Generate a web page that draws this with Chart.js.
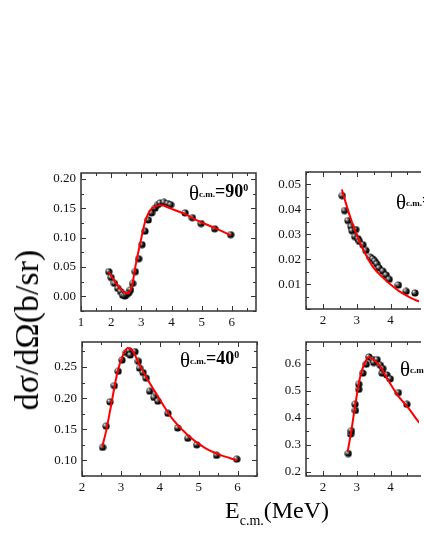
<!DOCTYPE html>
<html>
<head>
<meta charset="utf-8">
<script src="https://cdn.jsdelivr.net/npm/chart.js@4.4.1/dist/chart.umd.min.js"></script>
<style>
  html, body { margin: 0; padding: 0; background: #fff; }
  #page { position: relative; width: 424px; height: 548px; overflow: hidden; }
  #page canvas { position: absolute; }
  .lab { position: absolute; font-family: 'Liberation Serif', 'Times New Roman', serif; font-size: 21px; line-height: 1; white-space: nowrap; color: #000; }
  .th { position: relative; top: 3px; }
  .cm { font-size: 9px; font-weight: bold; }
  .ang { font-size: 18px; font-weight: bold; }
  .deg { font-size: 10px; font-weight: bold; position: relative; top: -6px; }
  #ytitle { position: absolute; left: 27px; top: 330px; transform: translate(-50%, -50%) rotate(-90deg);
    font-family: 'Liberation Serif', 'Times New Roman', serif; font-size: 34px; line-height: 1; white-space: nowrap; }
  #xtitle { position: absolute; left: 225px; top: 498px; font-family: 'Liberation Serif', 'Times New Roman', serif;
    font-size: 24px; line-height: 1; white-space: nowrap; }
  #xtitle .sub { font-size: 14px; position: relative; top: 7px; }
</style>
</head>
<body>
<div id="page">
  <canvas id="c90" width="230" height="174" style="left:31px;top:163px"></canvas>
  <canvas id="cTR" width="162" height="173" style="left:262px;top:162px"></canvas>
  <canvas id="c40" width="230" height="165" style="left:32px;top:337px"></canvas>
  <canvas id="cBR" width="162" height="165" style="left:262px;top:337px"></canvas>

  <div class="lab" style="left:189px;top:180px"><span class="th">θ</span><span class="cm">c.m.</span><span class="ang">=90</span><span class="deg">0</span></div>
  <div class="lab" style="left:396px;top:189px"><span class="th">θ</span><span class="cm">c.m.</span><span class="ang">=</span></div>
  <div class="lab" style="left:180px;top:347px"><span class="th">θ</span><span class="cm">c.m.</span><span class="ang">=40</span><span class="deg">0</span></div>
  <div class="lab" style="left:400px;top:356px"><span class="th">θ</span><span class="cm">c.m.</span><span class="ang">=</span></div>

  <div id="ytitle">dσ/dΩ(b/sr)</div>
  <div id="xtitle">E<span class="sub">c.m.</span>(MeV)</div>
</div>
<script>
// theta = 90 deg (top left)
const energy90 = [1.92, 2.00, 2.11, 2.22, 2.31, 2.38, 2.45, 2.51, 2.58, 2.64, 2.71, 2.80, 2.91, 3.02, 3.12, 3.23, 3.34, 3.45, 3.54, 3.62, 3.75, 3.87, 3.97, 4.45, 4.69, 4.98, 5.43, 5.96];
const sigma90 = [0.042, 0.032, 0.022, 0.0135, 0.008, 0.002, 0.0005, 0.003, 0.006, 0.011, 0.022, 0.042, 0.064, 0.088, 0.111, 0.130, 0.142, 0.150, 0.156, 0.159, 0.160, 0.158, 0.156, 0.142, 0.134, 0.124, 0.115, 0.105];
const fit90E = [1.92, 2.1, 2.3, 2.45, 2.55, 2.63, 2.71, 2.8, 2.91, 3.02, 3.12, 3.23, 3.34, 3.5, 3.65, 4.0, 4.45, 4.9, 5.45, 5.96];
const fit90S = [0.041, 0.027, 0.013, 0.006, 0.005, 0.009, 0.022, 0.05, 0.078, 0.104, 0.126, 0.141, 0.149, 0.154, 0.155, 0.149, 0.140, 0.128, 0.116, 0.104];
const ticks90 = [1, 2, 3, 4, 5, 6];

// top right panel (cut off by the page edge)
const energyTR = [2.57, 2.64, 2.74, 2.83, 2.86, 2.94, 2.97, 3.04, 3.08, 3.18, 3.27, 3.40, 3.47, 3.53, 3.59, 3.66, 3.77, 3.87, 3.96, 4.23, 4.46, 4.72];
const sigmaTR = [0.0455, 0.0395, 0.0355, 0.0331, 0.0314, 0.0291, 0.0319, 0.0282, 0.0271, 0.0258, 0.0235, 0.0208, 0.0201, 0.0192, 0.0181, 0.0165, 0.0152, 0.0136, 0.0119, 0.0096, 0.0071, 0.0064];
const fitTRE = [2.56, 2.7, 2.88, 3.1, 3.3, 3.5, 3.78, 4.0, 4.25, 4.5, 4.81, 5.2];
const fitTRS = [0.048, 0.0415, 0.034, 0.0265, 0.021, 0.0165, 0.0125, 0.0098, 0.0072, 0.0052, 0.0032, 0.0018];

// theta = 40 deg (bottom left)
const energy40 = [2.53, 2.62, 2.72, 2.83, 2.93, 3.03, 3.14, 3.21, 3.24, 3.36, 3.45, 3.48, 3.57, 3.65, 3.74, 3.85, 3.95, 4.21, 4.46, 4.72, 4.95, 5.46, 5.98];
const sigma40 = [0.121, 0.155, 0.194, 0.220, 0.243, 0.261, 0.273, 0.276, 0.269, 0.2745, 0.259, 0.248, 0.241, 0.232, 0.211, 0.201, 0.195, 0.1755, 0.152, 0.1355, 0.125, 0.108, 0.102];
const fit40E = [2.52, 2.62, 2.75, 2.91, 3.04, 3.17, 3.29, 3.46, 3.63, 3.97, 4.31, 4.73, 5.16, 5.5, 6.0];
const fit40S = [0.122, 0.147, 0.189, 0.241, 0.267, 0.280, 0.277, 0.256, 0.236, 0.201, 0.168, 0.140, 0.120, 0.110, 0.100];
const ticksRight = [2, 3, 4, 5, 6];

// bottom right panel (cut off by the page edge)
const energyBR = [2.75, 2.82, 2.84, 2.95, 2.96, 3.06, 3.06, 3.18, 3.28, 3.36, 3.47, 3.50, 3.60, 3.70, 3.75, 3.77, 3.89, 3.99, 4.23, 4.48];
const sigmaBR = [0.268, 0.340, 0.352, 0.450, 0.427, 0.505, 0.524, 0.565, 0.598, 0.625, 0.615, 0.604, 0.615, 0.594, 0.565, 0.582, 0.558, 0.544, 0.493, 0.450];
const fitBRE = [2.73, 2.84, 2.97, 3.11, 3.25, 3.37, 3.49, 3.68, 3.96, 4.24, 4.53, 4.81, 5.1];
const fitBRS = [0.274, 0.352, 0.46, 0.556, 0.606, 0.624, 0.615, 0.592, 0.532, 0.478, 0.436, 0.388, 0.35];

const SERIF = "'Liberation Serif', 'Times New Roman', serif";

// shaded black ball used for data points
function makeBall(r) {
  const c = document.createElement('canvas');
  c.width = c.height = 2 * r;
  const g = c.getContext('2d');
  const grad = g.createRadialGradient(r * 0.6, r * 0.6, 0.1, r * 0.9, r * 0.9, r);
  grad.addColorStop(0, '#f4f4f4');
  grad.addColorStop(0.3, '#777');
  grad.addColorStop(0.6, '#151515');
  grad.addColorStop(1, '#000');
  g.fillStyle = grad;
  g.beginPath();
  g.arc(r, r, r - 0.4, 0, Math.PI * 2);
  g.fill();
  return c;
}
const ball = makeBall(4);

// box frame with inward major/minor ticks (right side left open when the panel is cut)
const frameTicks = {
  id: 'frameTicks',
  afterDatasetsDraw(chart, args, opts) {
    const { ctx, chartArea: a, scales } = chart;
    ctx.save();
    ctx.strokeStyle = '#333';
    ctx.lineWidth = 1;
    const marks = (scale, major, minor, horiz) => {
      const start = Math.ceil(scale.min / minor - 1e-6);
      for (let k = start; k * minor <= scale.max + 1e-9; k++) {
        const v = k * minor;
        const isMajor = Math.abs(v / major - Math.round(v / major)) < 1e-6;
        const len = isMajor ? 5 : 3;
        const p = Math.round(scale.getPixelForValue(v)) + 0.5;
        ctx.beginPath();
        if (horiz) {
          ctx.moveTo(p, a.bottom); ctx.lineTo(p, a.bottom - len);
          ctx.moveTo(p, a.top); ctx.lineTo(p, a.top + len);
        } else {
          ctx.moveTo(a.left, p); ctx.lineTo(a.left + len, p);
          if (!opts.openRight) { ctx.moveTo(a.right, p); ctx.lineTo(a.right - len, p); }
        }
        ctx.stroke();
      }
    };
    marks(scales.x, opts.xMajor, opts.xMinor, true);
    marks(scales.y, opts.yMajor, opts.yMinor, false);
    ctx.lineWidth = 1.5;
    ctx.beginPath();
    if (opts.openRight) {
      ctx.moveTo(a.right + 2, a.top); ctx.lineTo(a.left, a.top);
      ctx.lineTo(a.left, a.bottom); ctx.lineTo(a.right + 2, a.bottom);
    } else {
      ctx.rect(a.left, a.top, a.width, a.height);
    }
    ctx.stroke();
    ctx.restore();
  }
};

function makePanel(id, ex, sy, fe, fs, ax) {
  const ctx = document.getElementById(id).getContext('2d');
  const pts = ex.map((e, i) => ({ x: e, y: sy[i] }));
  const fit = fe.map((e, i) => ({ x: e, y: fs[i] }));
  return new Chart(ctx, {
    type: 'scatter',
    data: {
      datasets: [
        {
          label: 'fit',
          data: fit,
          showLine: true,
          borderColor: '#ff0000',
          borderWidth: 2,
          pointRadius: 0,
          cubicInterpolationMode: 'monotone',
          order: 0,
        },
        {
          label: 'data',
          data: pts,
          pointStyle: ball,
          pointRadius: 4,
          order: 1,
        },
      ],
    },
    options: {
      responsive: false,
      animation: false,
      layout: { padding: { top: ax.padTop, right: ax.padRight, left: 0, bottom: 0 } },
      plugins: {
        legend: { display: false },
        tooltip: { enabled: false },
        frameTicks: ax.marks,
      },
      scales: {
        x: {
          type: 'linear',
          min: ax.xMin,
          max: ax.xMax,
          grid: { display: false, drawTicks: false },
          border: { display: false },
          ticks: {
            stepSize: 0.5,
            includeBounds: false,
            autoSkip: false,
            maxRotation: 0,
            padding: 4,
            color: '#111',
            font: { family: SERIF, size: 13 },
            callback: (v) => (ax.xTicks.some((t) => Math.abs(t - v) < 1e-6) ? String(Math.round(v)) : ''),
          },
          afterFit: (s) => { s.height = 26; s.paddingLeft = 0; s.paddingRight = 0; },
        },
        y: {
          type: 'linear',
          min: ax.yMin,
          max: ax.yMax,
          grid: { display: false, drawTicks: false },
          border: { display: false },
          ticks: {
            stepSize: ax.yStep,
            includeBounds: false,
            autoSkip: false,
            padding: 5,
            color: '#111',
            font: { family: SERIF, size: 13 },
            callback: (v) => (ax.hideZero && Math.abs(v) < 1e-9 ? null : v.toFixed(ax.digits)),
          },
          afterFit: (s) => { s.width = ax.yWidth; s.paddingTop = 0; s.paddingBottom = 0; },
        },
      },
    },
    plugins: [frameTicks],
  });
}

makePanel('c90', energy90, sigma90, fit90E, fit90S, {
  xMin: 1, xMax: 6.8, xTicks: ticks90, yMin: -0.025, yMax: 0.21, yStep: 0.05, digits: 2,
  padTop: 10, padRight: 2, yWidth: 50,
  marks: { xMajor: 1, xMinor: 0.5, yMajor: 0.05, yMinor: 0.025 },
});
makePanel('cTR', energyTR, sigmaTR, fitTRE, fitTRS, {
  xMin: 1.5, xMax: 4.84, xTicks: ticksRight, yMin: 0, yMax: 0.055, yStep: 0.01, digits: 2, hideZero: true,
  padTop: 10, padRight: 0, yWidth: 44,
  marks: { xMajor: 1, xMinor: 0.5, yMajor: 0.01, yMinor: 0.005, openRight: true },
});
makePanel('c40', energy40, sigma40, fit40E, fit40S, {
  xMin: 2, xMax: 6.5, xTicks: ticksRight, yMin: 0.075, yMax: 0.29, yStep: 0.05, digits: 2,
  padTop: 2, padRight: 2, yWidth: 50,
  marks: { xMajor: 1, xMinor: 0.5, yMajor: 0.05, yMinor: 0.025 },
});
makePanel('cBR', energyBR, sigmaBR, fitBRE, fitBRS, {
  xMin: 1.5, xMax: 4.84, xTicks: ticksRight, yMin: 0.185, yMax: 0.68, yStep: 0.1, digits: 1,
  padTop: 2, padRight: 0, yWidth: 44,
  marks: { xMajor: 1, xMinor: 0.5, yMajor: 0.1, yMinor: 0.05, openRight: true },
});
</script>
</body>
</html>
